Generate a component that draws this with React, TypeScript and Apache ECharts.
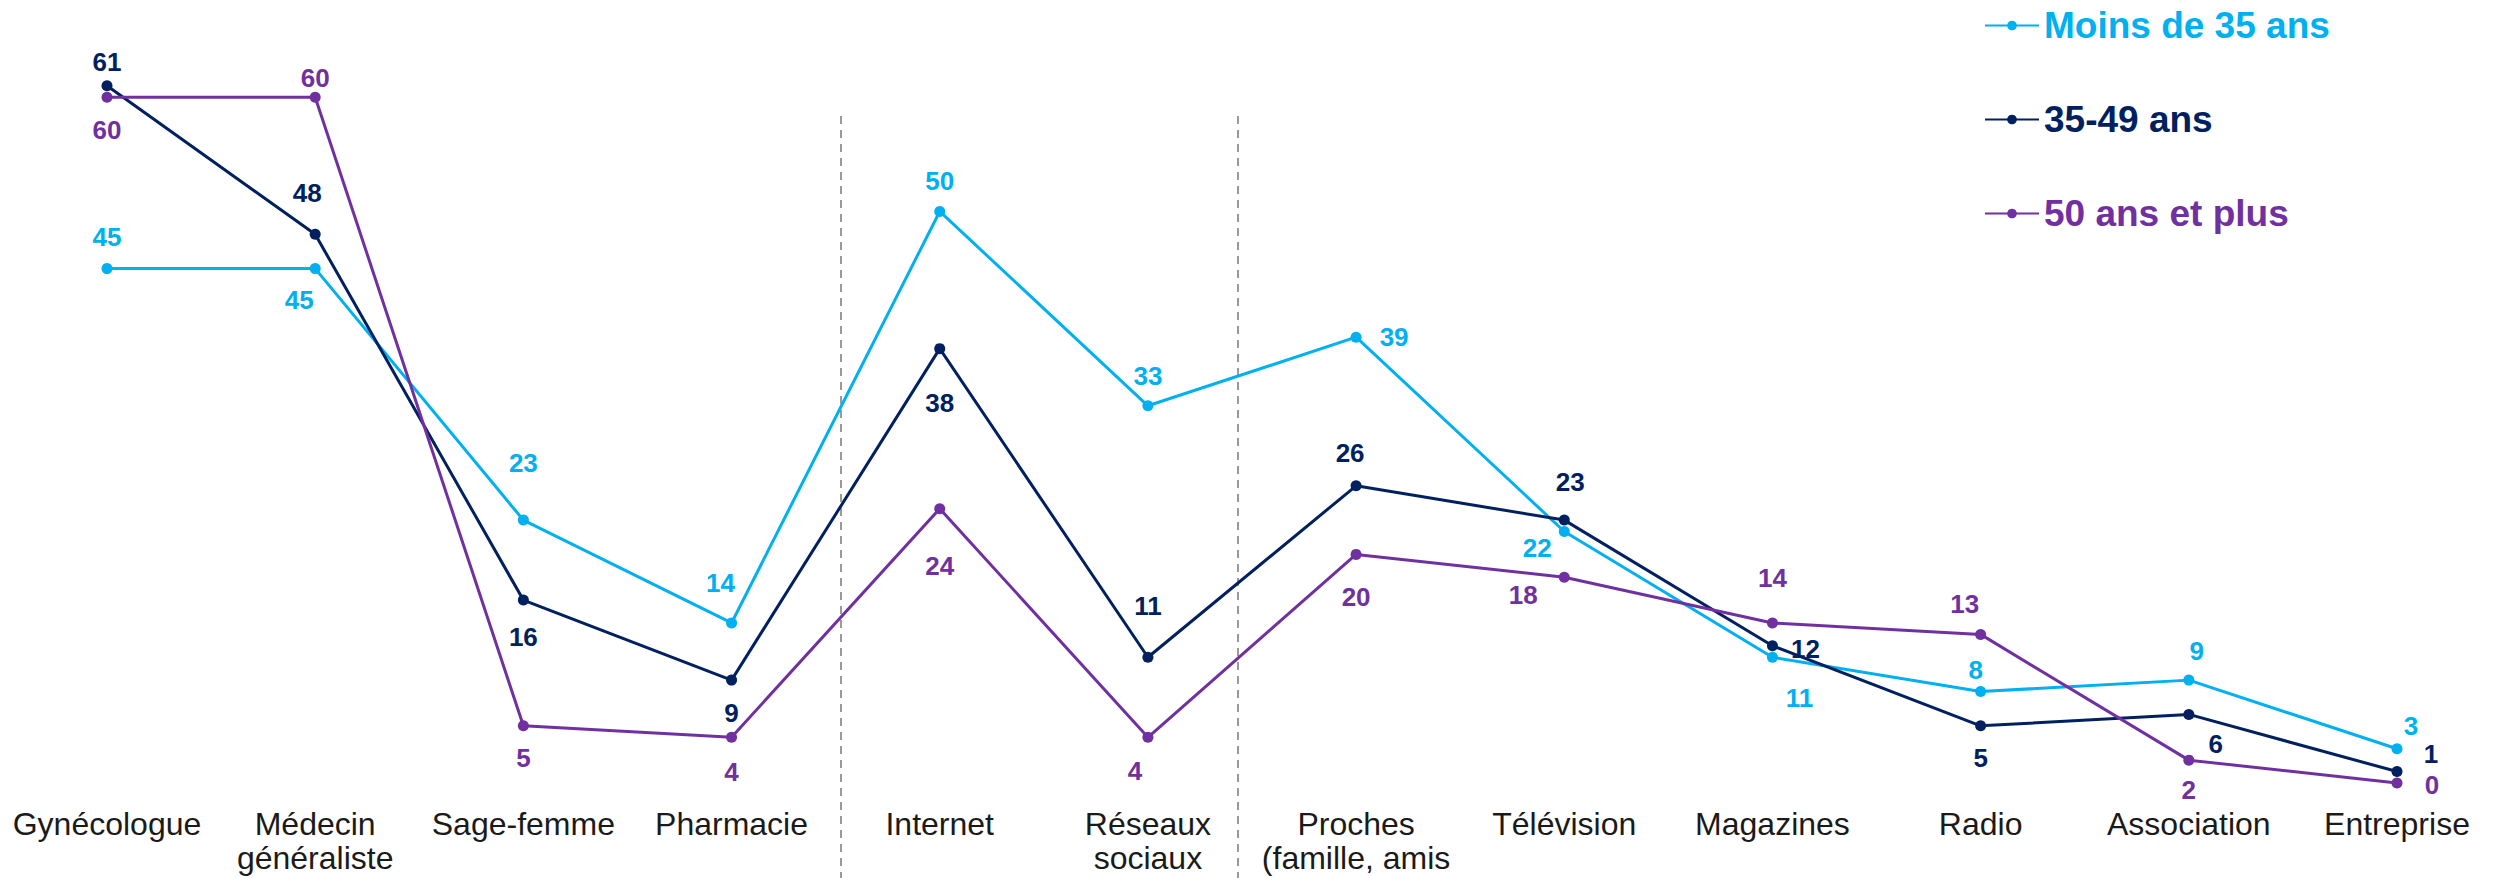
import React, { useEffect, useRef } from "react";
import * as echarts from "echarts";

const categories = [
  "Gynécologue",
  "Médecin\ngénéraliste",
  "Sage-femme",
  "Pharmacie",
  "Internet",
  "Réseaux\nsociaux",
  "Proches\n(famille, amis",
  "Télévision",
  "Magazines",
  "Radio",
  "Association",
  "Entreprise",
];

const seriesNames = ["Moins de 35 ans", "35-49 ans", "50 ans et plus"];

const moins35 = [45, 45, 23, 14, 50, 33, 39, 22, 11, 8, 9, 3];
const de35a49 = [61, 48, 16, 9, 38, 11, 26, 23, 12, 5, 6, 1];
const plus50 = [60, 60, 5, 4, 24, 4, 20, 18, 14, 13, 2, 0];

// label offsets (px) relative to each point, per series
const offsetsMoins35 = [
  [0, -32], [-16, 31], [0, -57], [-11, -40], [0, -30], [0, -30],
  [38, 0], [-27, 16], [27, 41], [-5, -22], [8, -29], [14, -23],
];
const offsets35a49 = [
  [0, -24], [-8, -41], [0, 37], [0, 33], [0, 54], [0, -51],
  [-6, -33], [6, -38], [33, 3], [0, 32], [27, 30], [34, -18],
];
const offsetsPlus50 = [
  [0, 33], [0, -19], [0, 32], [0, 35], [0, 57], [-13, 34],
  [0, 43], [-41, 18], [0, -45], [-16, -30], [0, 30], [35, 2],
];

const COLORS = ["#00B0F0", "#002060", "#7030A0"];
const FONT = "'Liberation Sans', Arial, sans-serif";

function buildSeries(name: string, values: number[], offsets: number[][], color: string) {
  return {
    name,
    type: "line",
    data: values.map((v, i) => ({
      value: v,
      label: { offset: offsets[i] },
    })),
    symbol: "circle",
    symbolSize: 11,
    lineStyle: { color, width: 3 },
    itemStyle: { color },
    label: {
      show: true,
      position: "inside",
      align: "center",
      verticalAlign: "middle",
      color,
      fontSize: 26,
      fontWeight: "bold",
      fontFamily: FONT,
    },
    emphasis: { disabled: true },
  };
}

export default function App() {
  const ref = useRef<HTMLDivElement>(null);
  useEffect(() => {
    if (!ref.current) return;
    const chart = echarts.init(ref.current, null, { renderer: "svg" });
    chart.setOption({
      animation: false,
      grid: { left: 107, right: 99, top: 40, bottom: 95, containLabel: false },
      legend: {
        orient: "vertical",
        left: 1979,
        top: 2,
        itemWidth: 54,
        itemHeight: 12,
        itemGap: 57,
        data: seriesNames.map((n, i) => ({
          name: n,
          textStyle: { color: COLORS[i] },
        })),
        textStyle: { fontSize: 37, fontWeight: "bold", fontFamily: FONT },
      },
      xAxis: {
        type: "category",
        data: categories,
        boundaryGap: false,
        axisLine: { show: false },
        axisTick: { show: false },
        splitLine: { show: false },
        axisLabel: {
          interval: 0,
          margin: 24,
          color: "#1a1a1a",
          fontSize: 32,
          lineHeight: 34,
          fontFamily: FONT,
        },
      },
      yAxis: {
        type: "value",
        min: 0,
        max: 65,
        show: false,
        splitLine: { show: false },
      },
      graphic: [
        {
          type: "line",
          shape: { x1: 841, y1: 116, x2: 841, y2: 878 },
          style: { stroke: "#9a9a9a", lineWidth: 2, lineDash: [8, 6] },
        },
        {
          type: "line",
          shape: { x1: 1238, y1: 116, x2: 1238, y2: 878 },
          style: { stroke: "#9a9a9a", lineWidth: 2, lineDash: [8, 6] },
        },
      ],
      series: [
        buildSeries(seriesNames[0], moins35, offsetsMoins35, COLORS[0]),
        buildSeries(seriesNames[1], de35a49, offsets35a49, COLORS[1]),
        buildSeries(seriesNames[2], plus50, offsetsPlus50, COLORS[2]),
      ],
    });
    return () => chart.dispose();
  }, []);
  return (
    <div
      ref={ref}
      style={{ position: "absolute", left: 0, top: 0, width: 2496, height: 878 }}
    />
  );
}
